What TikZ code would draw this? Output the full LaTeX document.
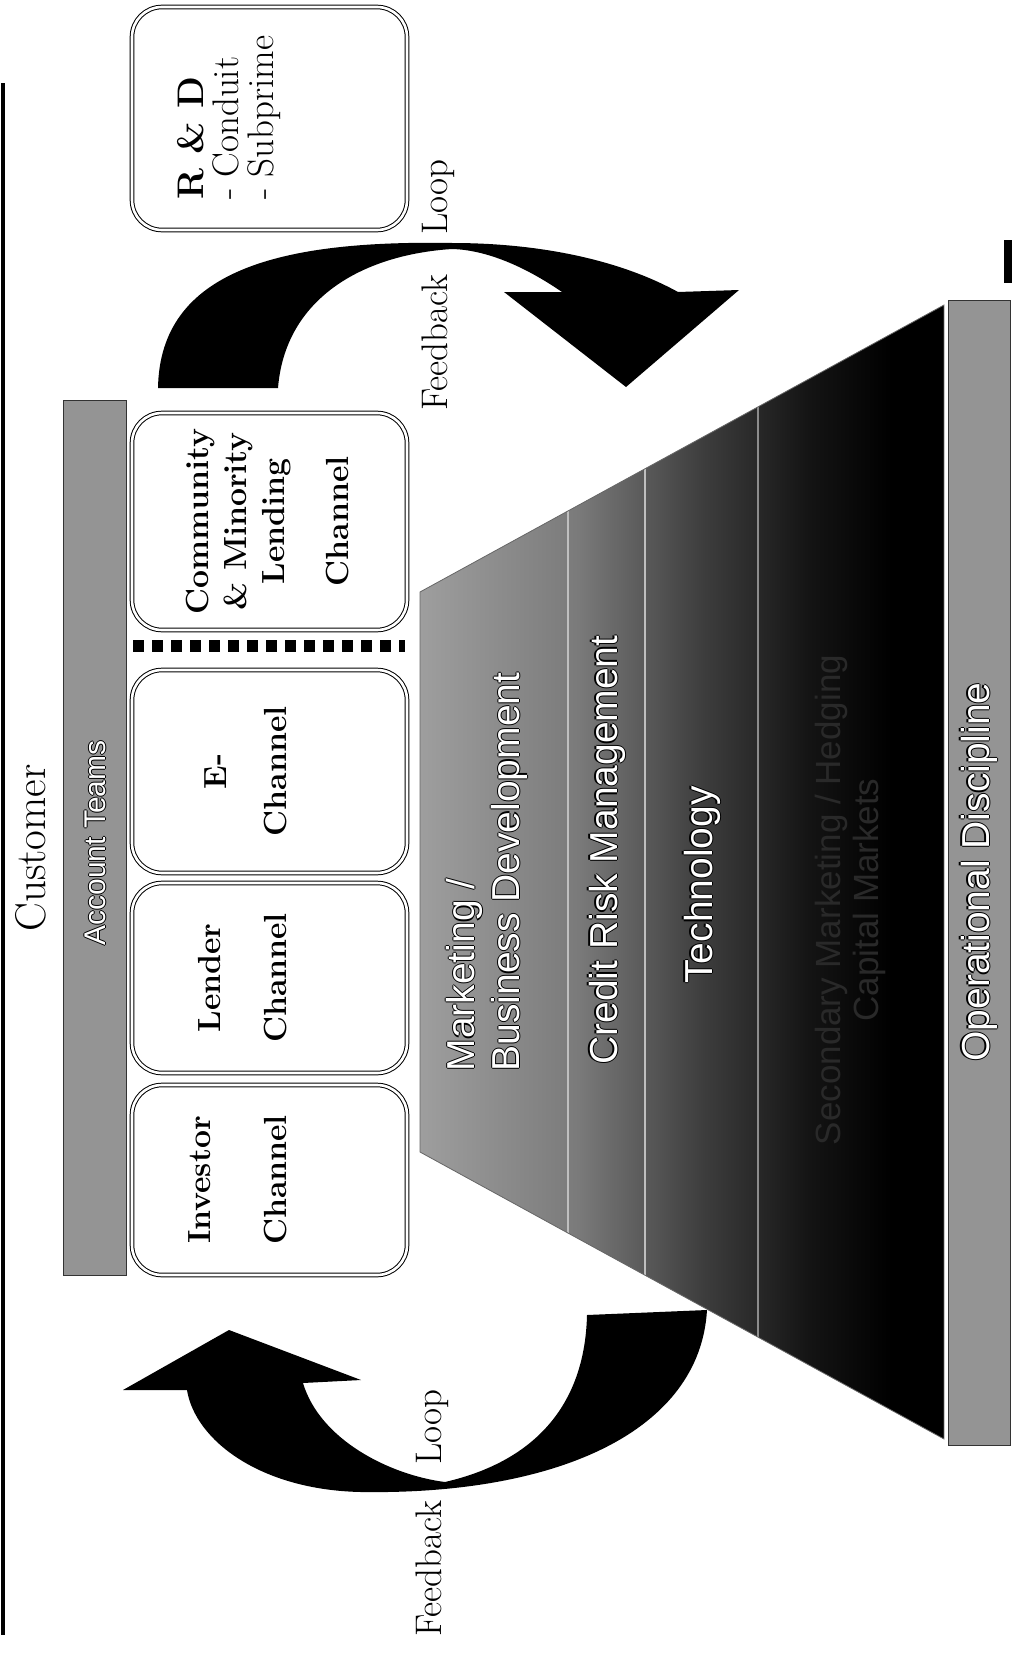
\documentclass[tikz,border=0pt]{standalone}
\usepackage{fontspec}
\newfontfamily\arialf{Liberation Sans}
\newcommand{\olt}[1]{\leavevmode\rlap{\color{black}\kern-1.1pt#1}\rlap{\color{black}\kern1.1pt#1}\rlap{\color{black}\raisebox{1.1pt}{#1}}\rlap{\color{black}\raisebox{-1.1pt}{#1}}{\color{white}#1}}
\pgfdeclarehorizontalshading{pyr}{100bp}{color(0bp)=(black!38); color(25bp)=(black!38); color(40bp)=(black!52); color(52bp)=(black!76); color(62bp)=(black!92); color(70bp)=(black); color(100bp)=(black)}
\begin{document}
\begin{tikzpicture}[x=1pt,y=1pt,
  chan/.style={draw, double, double distance=2.6pt, line width=1pt, rounded corners=30pt, fill=white, inner sep=0pt, minimum width=275pt},
  bar/.style={draw=black!80, line width=0.9pt, fill=black!42, inner sep=0pt},
  btext/.style={rotate=90, align=center, font=\bfseries\fontsize{32}{62}\selectfont, inner sep=0pt},
  stext/.style={rotate=90, align=center, font=\arialf\fontsize{39}{45}\selectfont, inner sep=0pt},
  fb/.style={rotate=90, font=\fontsize{37}{44}\selectfont, inner sep=0pt},
  dots/.style={line width=12pt, dash pattern=on 11pt off 8pt}
]
\useasboundingbox (0,0) rectangle (1012,-1653);

% frame marks
\fill (1,-83) rectangle (5,-1635);
\fill (1004,-240) rectangle (1012,-283);

% customer + account teams
\node[rotate=90, font=\fontsize{43}{50}\selectfont, inner sep=0pt] (cust) at (31,-848) {Customer};
\node[bar, minimum width=63pt, minimum height=875pt] (acct) at (94.5,-837.5) {};
\node[rotate=90, font=\arialf\fontsize{30}{34}\selectfont, inner sep=0pt] (acctt) at (95,-843) {\olt{Account Teams}};

% channel boxes
\node[chan, minimum height=223pt] (rnd) at (269.5,-118.5) {};
\node[chan, minimum height=217pt] (comm) at (269.5,-521.5) {};
\node[chan, minimum height=203pt] (ech) at (269.5,-771.5) {};
\node[chan, minimum height=190pt] (lend) at (269.5,-978) {};
\node[chan, minimum height=190pt] (inv) at (269.5,-1180) {};
\coordinate (dl) at (133,-646);
\coordinate (dr) at (405,-646);
\draw[dots] (dl) -- (dr);

\node[rotate=90, align=left, anchor=west, font=\fontsize{37}{35}\selectfont, inner sep=0pt] (rndt) at (229,-200) {\textbf{R \& D}\\- Conduit\\- Subprime};
\node[btext, font=\bfseries\fontsize{32}{38}\selectfont] (commt) at (268,-521.5) {Community\\\& Minority\\Lending\\[26pt]Channel};
\node[btext, font=\bfseries\fontsize{32}{60}\selectfont] (echt) at (246,-771.5) {E-\\Channel};
\node[btext, font=\bfseries\fontsize{32}{66}\selectfont] (lendt) at (243,-978) {Lender\\Channel};
\node[btext, font=\bfseries\fontsize{32}{76}\selectfont] (invt) at (238,-1180) {Investor\\Channel};

% pyramid
\shade[shading=pyr] (420,-592) -- (944,-305) -- (944,-1439) -- (420,-1152) -- cycle;
\begin{scope}
  \clip (420,-592) -- (944,-305) -- (944,-1439) -- (420,-1152) -- cycle;
  \draw[white!75!black, line width=1.3pt] (568,-300) -- (568,-1450);
  \draw[white!75!black, line width=1.3pt] (645,-300) -- (645,-1450);
  \draw[white!55!black, line width=1.1pt] (758,-300) -- (758,-1450);
\end{scope}
\draw[black!60, line width=0.8pt] (420,-592) -- (944,-305) -- (944,-1439) -- (420,-1152) -- cycle;

\node[stext, align=left] (mkt) at (487,-872) {\olt{Marketing /}\\\olt{Business Development}};
\node[stext] (crm) at (607,-850) {\olt{Credit Risk Management}};
\node[stext] (tech) at (702,-885) {\olt{Technology}};
\node[stext, font=\arialf\fontsize{35}{38}\selectfont, text=black!84] (dark) at (850,-900) {Secondary Marketing / Hedging\\Capital Markets};

% operational discipline
\node[bar, minimum width=62pt, minimum height=1145pt] (ops) at (979,-872.5) {};
\node[rotate=90, font=\arialf\fontsize{39}{45}\selectfont, inner sep=0pt] (opst) at (979,-872) {\olt{Operational Discipline}};

% feedback arrows
\fill (158,-388) .. controls (160,-270) and (280,-240) .. (452,-243)
  .. controls (540,-243) and (620,-260) .. (678,-292)
  -- (739,-290) -- (626,-387) -- (504,-292) -- (562,-292)
  .. controls (530,-270) and (490,-250) .. (452,-249)
  .. controls (360,-255) and (285,-300) .. (278,-388) -- cycle;
\fill (587,-1315) -- (707,-1310) .. controls (700,-1430) and (560,-1495) .. (361,-1492)
  .. controls (260,-1490) and (195,-1440) .. (187,-1390)
  -- (123,-1390) -- (229,-1330) -- (361,-1380) -- (303,-1383)
  .. controls (320,-1440) and (390,-1475) .. (445,-1482)
  .. controls (540,-1460) and (585,-1400) .. (587,-1315) -- cycle;

\node[fb] (fbtop) at (438,-285) {Feedback\hspace{40pt}Loop};
\node[fb] (fbbot) at (432,-1513) {Feedback\hspace{36pt}Loop};
\end{tikzpicture}
\end{document}
